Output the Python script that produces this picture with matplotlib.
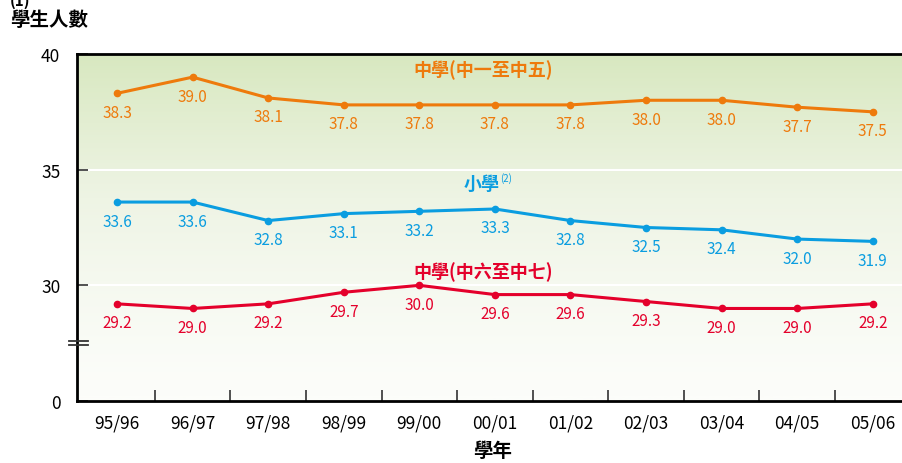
import numpy as np
import matplotlib
matplotlib.use("Agg")
import matplotlib.pyplot as plt
from matplotlib.colors import LinearSegmentedColormap
import matplotlib.transforms as mtransforms

plt.rcParams['font.family'] = ['Noto Sans CJK TC', 'DejaVu Sans']

# data
years = ["95/96", "96/97", "97/98", "98/99", "99/00", "00/01",
         "01/02", "02/03", "03/04", "04/05", "05/06"]
secondary_1_5 = [38.3, 39.0, 38.1, 37.8, 37.8, 37.8, 37.8, 38.0, 38.0, 37.7, 37.5]
primary = [33.6, 33.6, 32.8, 33.1, 33.2, 33.3, 32.8, 32.5, 32.4, 32.0, 31.9]
secondary_6_7 = [29.2, 29.0, 29.2, 29.7, 30.0, 29.6, 29.6, 29.3, 29.0, 29.0, 29.2]

y_ticks = [25, 30, 35, 40]
y_tick_labels = ["0", "30", "35", "40"]

ORANGE = "#ee7a0c"
BLUE = "#0a9de0"
RED = "#e4002b"

fig = plt.figure(figsize=(9.03, 4.64), dpi=100)
ax = fig.add_axes([77 / 903, 62 / 464, 1 - 77 / 903, 347 / 464])

x = np.arange(len(years))
ax.set_xlim(-0.53, len(years) - 0.6)
ax.set_ylim(25, 40)

# background gradient, green on top fading to white
cmap = LinearSegmentedColormap.from_list("bg", ["#fcfdfa", "#eef4e4", "#d8e8c0"])
grad = np.linspace(0, 1, 256).reshape(-1, 1) ** 1.3
ax.imshow(grad, aspect="auto", cmap=cmap, origin="lower",
          extent=[-0.53, len(years) - 0.6, 25, 40], zorder=0)

for v in [30, 35]:
    ax.axhline(v, color="white", lw=1.5, zorder=1)

series = [
    (secondary_1_5, ORANGE),
    (primary, BLUE),
    (secondary_6_7, RED),
]
for vals, col in series:
    ax.plot(x, vals, color=col, lw=2.2, marker="o", ms=4.5, zorder=3)
    for xi, v in zip(x, vals):
        ax.annotate(f"{v:.1f}", (xi, v), xytext=(0, -19), textcoords="offset pixels",
                    ha="center", va="center", color=col, fontsize=11, zorder=4)

ax.text(4.84, 39.35, "中學(中一至中五)", color=ORANGE, fontsize=13, fontweight="bold",
        ha="center", va="center")
ax.text(4.83, 34.4, "小學", color=BLUE, fontsize=13, fontweight="bold",
        ha="center", va="center")
ax.text(5.07, 34.65, "(2)", color=BLUE, fontsize=7, ha="left", va="center")
ax.text(4.84, 30.6, "中學(中六至中七)", color=RED, fontsize=13, fontweight="bold",
        ha="center", va="center")

# axes styling
for side in ["top", "left", "bottom"]:
    ax.spines[side].set_linewidth(2)
    ax.spines[side].set_color("black")
ax.spines["right"].set_visible(False)

ax.set_yticks(y_ticks)
ax.set_yticklabels(y_tick_labels)
ax.tick_params(axis="y", direction="in", length=8, width=1.2, color="#333333",
               labelsize=12.5, pad=12)

ax.set_xticks(x[:-1] + 0.5)
ax.set_xticklabels([])
ax.set_xticks(x, minor=True)
ax.set_xticklabels(years, minor=True)
ax.tick_params(axis="x", which="major", direction="in", length=8, width=1.2, color="#333333")
ax.tick_params(axis="x", which="minor", length=0, labelsize=12.5, pad=9)

# axis break marks
trans = mtransforms.blended_transform_factory(fig.transFigure, ax.transData)
for yb in [27.43, 27.6]:
    ax.plot([69 / 903, 88 / 903], [yb, yb], color="#333333", lw=1.3,
            transform=trans, clip_on=False, zorder=5)

fig.text(10 / 903, 1 - 20 / 464, "學生人數", fontsize=14, fontweight="bold",
         ha="left", va="center")
fig.text(10 / 903, 1 - 1 / 464, "(1)", fontsize=11, fontweight="bold", ha="left", va="center")
fig.text(493 / 903, 1 - 452 / 464, "學年", fontsize=14, fontweight="bold",
         ha="center", va="center")

fig.savefig("out.png", dpi=100)
